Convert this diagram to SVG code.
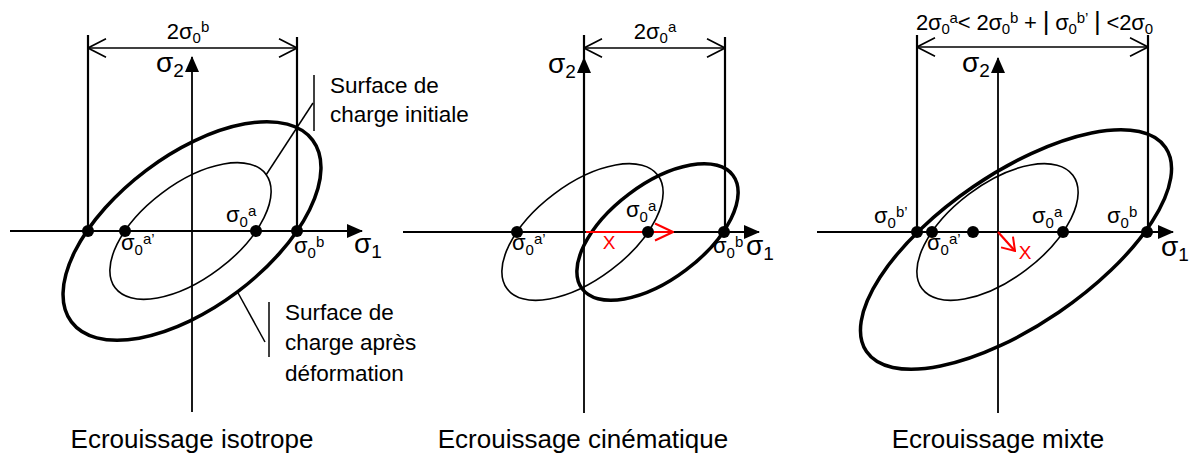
<svg xmlns="http://www.w3.org/2000/svg" width="1191" height="457" viewBox="0 0 1191 457">
<defs>
<marker id="axhead" viewBox="0 0 16 14" refX="15" refY="7" markerWidth="16" markerHeight="14" markerUnits="userSpaceOnUse" orient="auto"><path d="M0,0 L16,7 L0,14 Z" fill="#000"/></marker>
<marker id="dimhead" viewBox="0 0 20 20" refX="19" refY="10" markerWidth="20" markerHeight="20" markerUnits="userSpaceOnUse" orient="auto-start-reverse"><path d="M1,0.8 L19,10 L1,19.2" fill="none" stroke="#000" stroke-width="1.6"/></marker>
<marker id="redhead" viewBox="0 0 20 20" refX="19" refY="10" markerWidth="20" markerHeight="20" markerUnits="userSpaceOnUse" orient="auto"><path d="M1,1.5 L19,10 L1,18.5" fill="none" stroke="#f00" stroke-width="2"/></marker>
<marker id="redhead-s" viewBox="0 0 16 18" refX="15" refY="9" markerWidth="16" markerHeight="18" markerUnits="userSpaceOnUse" orient="auto"><path d="M3,1 L15,9 L3,17" fill="none" stroke="#f00" stroke-width="2"/></marker>
</defs>
<style>
.ax{stroke:#000;stroke-width:1.8;fill:none}
.dim{stroke:#000;stroke-width:2.2;fill:none}
.dimh{stroke:#000;stroke-width:1.6;fill:none}
.thin{stroke:#000;stroke-width:1.6;fill:none}
.thick{stroke:#000;stroke-width:3.5;fill:none}
.lead{stroke:#000;stroke-width:1.5;fill:none}
.dot{fill:#000}
.red{stroke:#f00;stroke-width:2.2;fill:none}
text{font-family:"Liberation Sans",Arial,sans-serif;fill:#000}
.big{font-size:28px}
.bs{font-size:19px}
.lbl{font-size:22px}
.s{font-size:15px}
.note{font-size:22.5px}
.title{font-size:26px}
.rx{fill:#f00;font-size:19px}
</style>

<!-- Panel 1 : isotrope -->
<g id="panel-isotrope">
  <g id="p1-shapes">
    <ellipse class="thick" cx="192" cy="231" rx="151" ry="76" transform="rotate(-37 192 231)"/>
    <ellipse class="thin" cx="190.5" cy="231" rx="94.4" ry="47.5" transform="rotate(-37 190.5 231)"/>
  </g>
  <g id="p1-connectors">
    <path class="ax" d="M10,231 H362" marker-end="url(#axhead)"/>
    <path class="ax" d="M192,412 V57" marker-end="url(#axhead)"/>
    <path class="dim" d="M88,35 V231"/>
    <path class="dim" d="M297,37 V231"/>
    <path class="dimh" d="M88,48 H297" marker-start="url(#dimhead)" marker-end="url(#dimhead)"/>
    <path class="lead" d="M314,75 V131"/>
    <path class="lead" d="M313,103 L266,175"/>
    <path class="lead" d="M269,302 V357"/>
    <path class="lead" d="M265,342 L237,291"/>
  </g>
  <g id="p1-dots">
    <circle class="dot" cx="88" cy="231" r="6"/>
    <circle class="dot" cx="125" cy="231" r="6"/>
    <circle class="dot" cx="256" cy="231" r="6"/>
    <circle class="dot" cx="297" cy="231" r="6"/>
  </g>
  <g id="p1-labels">
    <text class="lbl" x="188" y="39" text-anchor="middle">2σ<tspan class="s" dy="4">0</tspan><tspan class="s" dy="-11">b</tspan></text>
    <text class="big" x="156" y="72">σ<tspan class="bs" dy="5">2</tspan></text>
    <text class="big" x="354" y="253">σ<tspan class="bs" dy="5">1</tspan></text>
    <text class="lbl" x="226" y="222">σ<tspan class="s" dy="5">0</tspan><tspan class="s" dy="-11">a</tspan></text>
    <text class="lbl" x="121" y="250">σ<tspan class="s" dy="5">0</tspan><tspan class="s" dy="-11">a’</tspan></text>
    <text class="lbl" x="294" y="253">σ<tspan class="s" dy="5">0</tspan><tspan class="s" dy="-11">b</tspan></text>
    <text class="note" x="330" y="93">Surface de</text>
    <text class="note" x="330" y="122">charge initiale</text>
    <text class="note" x="285" y="320">Surface de</text>
    <text class="note" x="285" y="350">charge après</text>
    <text class="note" x="285" y="381">déformation</text>
    <text class="title" x="192" y="448" text-anchor="middle">Ecrouissage isotrope</text>
  </g>
</g>

<!-- Panel 2 : cinematique -->
<g id="panel-cinematique">
  <g id="p2-shapes">
    <ellipse class="thin" cx="582.5" cy="232" rx="94.4" ry="47.5" transform="rotate(-37 582.5 232)"/>
    <ellipse class="thick" cx="657.5" cy="232" rx="94.4" ry="47.5" transform="rotate(-37 657.5 232)"/>
  </g>
  <g id="p2-connectors">
    <path class="ax" d="M403,232 H759" marker-end="url(#axhead)"/>
    <path class="ax" d="M584,413 V58" marker-end="url(#axhead)"/>
    <path class="dim" d="M584,35 V232"/>
    <path class="dim" d="M725,37 V232"/>
    <path class="dimh" d="M584,48 H725" marker-start="url(#dimhead)" marker-end="url(#dimhead)"/>
    <path class="red" d="M586,232 H673" marker-end="url(#redhead)"/>
  </g>
  <g id="p2-dots">
    <circle class="dot" cx="517" cy="232" r="6"/>
    <circle class="dot" cx="648" cy="232" r="6"/>
    <circle class="dot" cx="724" cy="232" r="6"/>
  </g>
  <g id="p2-labels">
    <text class="lbl" x="655" y="39" text-anchor="middle">2σ<tspan class="s" dy="4">0</tspan><tspan class="s" dy="-11">a</tspan></text>
    <text class="big" x="548" y="73">σ<tspan class="bs" dy="5">2</tspan></text>
    <text class="big" x="746" y="255">σ<tspan class="bs" dy="5">1</tspan></text>
    <text class="lbl" x="626" y="217">σ<tspan class="s" dy="5">0</tspan><tspan class="s" dy="-11">a</tspan></text>
    <text class="lbl" x="512" y="250">σ<tspan class="s" dy="5">0</tspan><tspan class="s" dy="-11">a’</tspan></text>
    <text class="lbl" x="713" y="253">σ<tspan class="s" dy="5">0</tspan><tspan class="s" dy="-11">b</tspan></text>
    <text class="rx" x="609" y="249" text-anchor="middle">X</text>
    <text class="title" x="583" y="448" text-anchor="middle">Ecrouissage cinématique</text>
  </g>
</g>

<!-- Panel 3 : mixte -->
<g id="panel-mixte">
  <g id="p3-shapes">
    <ellipse class="thick" cx="1016" cy="249.5" rx="181" ry="76" transform="rotate(-34.3 1016 249.5)"/>
    <ellipse class="thin" cx="997.5" cy="232" rx="94.4" ry="47.5" transform="rotate(-37 997.5 232)"/>
  </g>
  <g id="p3-connectors">
    <path class="ax" d="M817,232 H1173" marker-end="url(#axhead)"/>
    <path class="ax" d="M998,413 V58" marker-end="url(#axhead)"/>
    <path class="dim" d="M917,35 V232"/>
    <path class="dim" d="M1148,35 V232"/>
    <path class="dimh" d="M917,47 H1148" marker-start="url(#dimhead)" marker-end="url(#dimhead)"/>
    <path class="red" d="M998,232 L1015,251" marker-end="url(#redhead-s)"/>
  </g>
  <g id="p3-dots">
    <circle class="dot" cx="917" cy="232" r="6"/>
    <circle class="dot" cx="932" cy="232" r="6"/>
    <circle class="dot" cx="973" cy="232" r="6"/>
    <circle class="dot" cx="1063" cy="232" r="6"/>
    <circle class="dot" cx="1147" cy="232" r="6"/>
  </g>
  <g id="p3-labels">
    <text class="lbl" x="916" y="30" textLength="237" lengthAdjust="spacing">2σ<tspan class="s" dy="4">0</tspan><tspan class="s" dy="-11">a</tspan><tspan dy="7">&lt; 2σ</tspan><tspan class="s" dy="4">0</tspan><tspan class="s" dy="-11">b</tspan><tspan dy="7"> + </tspan><tspan font-size="26">|</tspan><tspan> σ</tspan><tspan class="s" dy="4">0</tspan><tspan class="s" dy="-11">b’</tspan><tspan dy="7"> </tspan><tspan font-size="26">|</tspan><tspan> &lt;2σ</tspan><tspan class="s" dy="4">0</tspan></text>
    <text class="big" x="962" y="72">σ<tspan class="bs" dy="5">2</tspan></text>
    <text class="big" x="1161" y="256">σ<tspan class="bs" dy="5">1</tspan></text>
    <text class="lbl" x="874" y="223">σ<tspan class="s" dy="5">0</tspan><tspan class="s" dy="-11">b’</tspan></text>
    <text class="lbl" x="927" y="250">σ<tspan class="s" dy="5">0</tspan><tspan class="s" dy="-11">a’</tspan></text>
    <text class="lbl" x="1032" y="223">σ<tspan class="s" dy="5">0</tspan><tspan class="s" dy="-11">a</tspan></text>
    <text class="lbl" x="1107" y="223">σ<tspan class="s" dy="5">0</tspan><tspan class="s" dy="-11">b</tspan></text>
    <text class="rx" x="1025" y="259" text-anchor="middle">X</text>
    <text class="title" x="998" y="448" text-anchor="middle">Ecrouissage mixte</text>
  </g>
</g>
</svg>
